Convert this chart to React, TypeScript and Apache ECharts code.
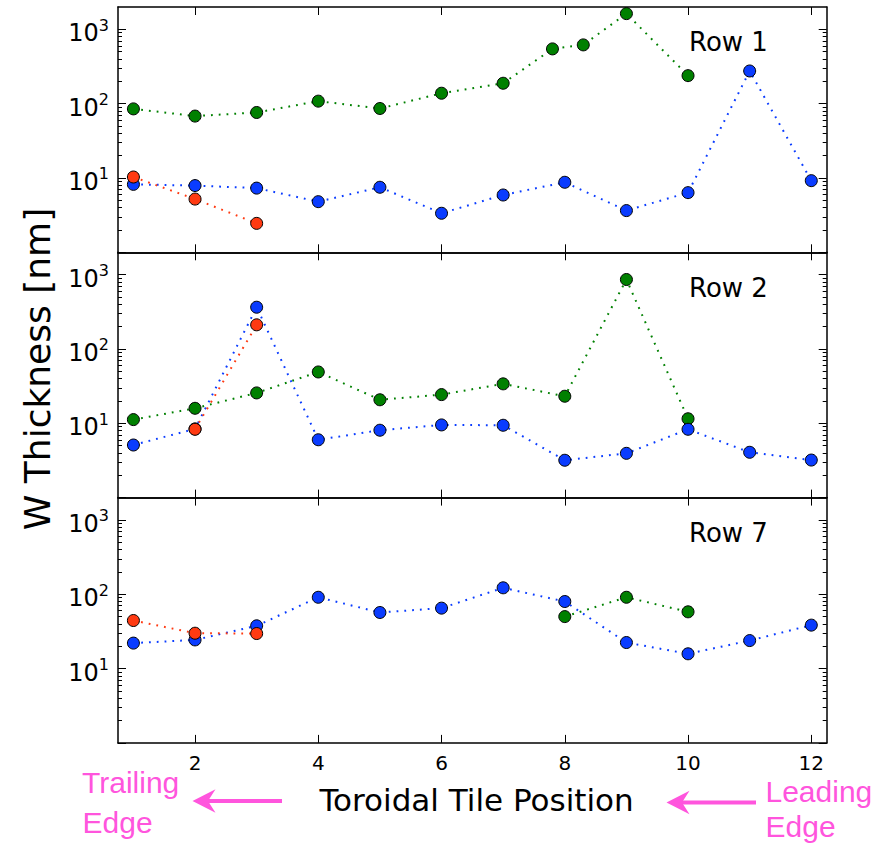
import React, { useEffect, useRef } from "react";
import * as echarts from "echarts";

// Tile positions along the toroidal direction
const positions = [1, 2, 3, 4, 5, 6, 7, 8, 9, 10, 11, 12];
const tickPositions = [2, 4, 6, 8, 10, 12];

// Row 1
const row1GreenX = [1, 2, 3, 4, 5, 6, 7, 7.8, 8.3, 9, 10];
const row1Green = [85, 68, 76, 108, 86, 138, 188, 545, 617, 1625, 238];
const row1Blue = [8.2, 7.9, 7.3, 4.8, 7.5, 3.35, 5.9, 8.75, 3.64, 6.35, 275, 9.2];
const row1RedX = [1, 2, 3];
const row1Red = [10.3, 5.2, 2.45];

// Row 2
const row2GreenX = [1, 2, 3, 4, 5, 6, 7, 8, 9, 10];
const row2Green = [11.2, 15.9, 25.6, 49, 20.7, 24.3, 33.9, 23.1, 859, 11.5];
const row2Blue = [5.1, 8.4, 364, 6.0, 8.06, 9.5, 9.4, 3.18, 3.94, 8.3, 4.07, 3.2];
const row2RedX = [2, 3];
const row2Red = [8.3, 211];

// Row 7
const row7GreenX = [8, 9, 10];
const row7Green = [50, 91, 58];
const row7Blue = [22.0, 24.3, 37.6, 91, 56.8, 65, 122, 79.8, 22.4, 15.8, 23.8, 38.4];
const row7RedX = [1, 2, 3];
const row7Red = [44.3, 29.9, 29.6];

const rowNames = ["Row 1", "Row 2", "Row 7"];
const majorTicks = [1, 10, 100, 1000];
const labelTicks = [10, 100, 1000];
const minorTicks = [2, 3, 4, 5, 6, 7, 8, 9, 20, 30, 40, 50, 60, 70, 80, 90, 200, 300, 400, 500, 600, 700, 800, 900];

const GREEN = "#008000";
const BLUE = "#0a3cff";
const RED = "#ff3a12";
const PINK = "#ff55dd";

const rows = [
  { green: [row1GreenX, row1Green], blue: [positions, row1Blue], red: [row1RedX, row1Red] },
  { green: [row2GreenX, row2Green], blue: [positions, row2Blue], red: [row2RedX, row2Red] },
  { green: [row7GreenX, row7Green], blue: [positions, row7Blue], red: [row7RedX, row7Red] },
];

const pairs = (xs: number[], ys: number[]) => ys.map((y, i) => [xs[i], y]);

export default function App() {
  const ref = useRef<HTMLDivElement>(null);

  useEffect(() => {
    if (!ref.current) return;
    const chart = echarts.init(ref.current, null, { renderer: "svg" });

    const left = 118;
    const width = 708.7;
    const height = 245.3;
    const tops = [7, 252.3, 497.6];

    const axisLine = { show: true, lineStyle: { color: "#000", width: 1.5 } };

    const grid: any[] = [];
    const xAxis: any[] = [];
    const yAxis: any[] = [];
    const series: any[] = [];

    tops.forEach((top, g) => {
      grid.push({ left, top, width, height });
      const baseX = {
        type: "value",
        gridIndex: g,
        min: 0.75,
        max: 12.25,
        splitLine: { show: false },
        axisLine,
        axisTick: { show: true, inside: true, length: 8, customValues: tickPositions, lineStyle: { color: "#000", width: 1 } },
      };
      xAxis.push({
        ...baseX,
        position: "bottom",
        axisLabel: {
          show: g === 2,
          customValues: tickPositions,
          fontSize: 20,
          color: "#000",
          margin: 10,
          fontFamily: "DejaVu Sans",
        },
      });
      xAxis.push({ ...baseX, position: "top", axisLabel: { show: false } });

      const baseY = {
        type: "log",
        logBase: 10,
        gridIndex: g,
        min: 1,
        max: 1995,
        splitLine: { show: false },
      };
      const majorTick = { show: true, inside: true, length: 8, customValues: majorTicks, lineStyle: { color: "#000", width: 1 } };
      const minorTick = { show: true, inside: true, length: 4, customValues: minorTicks, lineStyle: { color: "#000", width: 1 } };
      yAxis.push({
        ...baseY,
        position: "left",
        axisLine,
        axisTick: majorTick,
        axisLabel: {
          show: true,
          customValues: labelTicks,
          margin: 9,
          formatter: (v: number) => `{b|10}{s|${Math.round(Math.log10(v))}}`,
          rich: {
            b: { fontSize: 24, lineHeight: 24, padding: [8, 0, 0, 0], color: "#000", fontFamily: "DejaVu Sans" },
            s: { fontSize: 16, lineHeight: 24, verticalAlign: "top", color: "#000", fontFamily: "DejaVu Sans" },
          },
        },
      });
      yAxis.push({ ...baseY, position: "left", axisLine: { show: false }, axisTick: minorTick, axisLabel: { show: false } });
      yAxis.push({ ...baseY, position: "right", axisLine, axisTick: majorTick, axisLabel: { show: false } });
      yAxis.push({ ...baseY, position: "right", axisLine: { show: false }, axisTick: minorTick, axisLabel: { show: false } });

      const row = rows[g];
      const defs: [string, number[][]][] = [
        [GREEN, row.green],
        [BLUE, row.blue],
        [RED, row.red],
      ];
      defs.forEach(([color, [xs, ys]]) => {
        series.push({
          type: "line",
          xAxisIndex: 2 * g,
          yAxisIndex: 4 * g,
          data: pairs(xs, ys),
          symbol: "circle",
          symbolSize: 12,
          showSymbol: true,
          silent: true,
          itemStyle: { color, borderColor: "#000", borderWidth: 1 },
          lineStyle: { color, width: 2, type: [1.8, 6] },
        });
      });
    });

    const rowLabelYs = [41.7, 287.5, 532.7];
    const graphic: any[] = rowNames.map((name, i) => ({
      type: "text",
      x: 689,
      y: rowLabelYs[i],
      silent: true,
      style: { text: name, font: "26px 'DejaVu Sans'", fill: "#000", textAlign: "left", textVerticalAlign: "middle" },
    }));

    graphic.push(
      {
        type: "text",
        x: 37,
        y: 369,
        rotation: Math.PI / 2,
        silent: true,
        style: { text: "W Thickness [nm]", font: "36px 'DejaVu Sans'", fill: "#000", textAlign: "center", textVerticalAlign: "middle" },
      },
      {
        type: "text",
        x: 476.5,
        y: 799.7,
        silent: true,
        style: { text: "Toroidal Tile Position", font: "31px 'DejaVu Sans'", fill: "#000", textAlign: "center", textVerticalAlign: "middle" },
      },
      { type: "text", x: 82, y: 782.7, silent: true, style: { text: "Trailing", font: "30px 'Liberation Sans'", fill: PINK, textAlign: "left", textVerticalAlign: "middle" } },
      { type: "text", x: 82.5, y: 822.9, silent: true, style: { text: "Edge", font: "30px 'Liberation Sans'", fill: PINK, textAlign: "left", textVerticalAlign: "middle" } },
      { type: "text", x: 765.5, y: 791.7, silent: true, style: { text: "Leading", font: "30px 'Liberation Sans'", fill: PINK, textAlign: "left", textVerticalAlign: "middle" } },
      { type: "text", x: 765.5, y: 826, silent: true, style: { text: "Edge", font: "30px 'Liberation Sans'", fill: PINK, textAlign: "left", textVerticalAlign: "middle" } },
      // left-pointing arrows
      { type: "line", silent: true, shape: { x1: 207, y1: 801, x2: 282, y2: 801 }, style: { stroke: PINK, lineWidth: 4 } },
      { type: "polygon", silent: true, shape: { points: [[192.5, 801], [215.5, 789.3], [208, 801], [215.5, 812.7]] }, style: { fill: PINK } },
      { type: "line", silent: true, shape: { x1: 681, y1: 802.5, x2: 756, y2: 802.5 }, style: { stroke: PINK, lineWidth: 4 } },
      { type: "polygon", silent: true, shape: { points: [[666.5, 802.5], [689.5, 790.8], [682, 802.5], [689.5, 814.2]] }, style: { fill: PINK } }
    );

    chart.setOption({
      animation: false,
      backgroundColor: "#fff",
      textStyle: { fontFamily: "DejaVu Sans" },
      grid,
      xAxis,
      yAxis,
      series,
      graphic,
    });

    return () => chart.dispose();
  }, []);

  return (
    <div
      ref={ref}
      style={{ position: "fixed", left: 0, top: 0, width: 894, height: 845, background: "#fff" }}
    />
  );
}
